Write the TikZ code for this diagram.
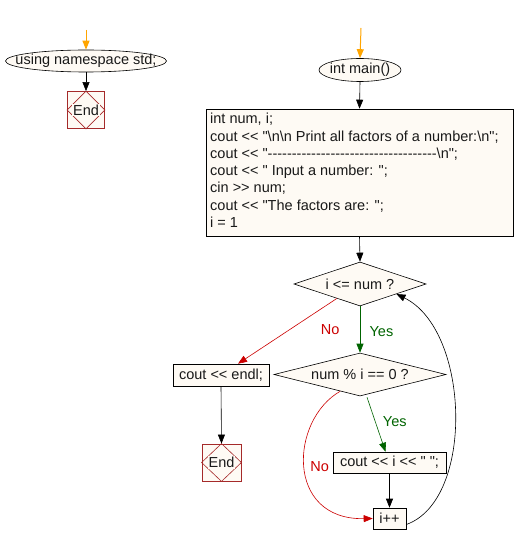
\documentclass[tikz,border=0pt]{standalone}
\usepackage{fontspec}
\setmainfont{Liberation Sans}[Ligatures=TeXOff]
\usetikzlibrary{shapes.geometric,arrows.meta,calc}
\definecolor{cream}{HTML}{FEFAF4}
\definecolor{endred}{HTML}{A52A2A}
\definecolor{yesgreen}{HTML}{006400}
\definecolor{nored}{HTML}{CC0000}
\definecolor{startorange}{HTML}{FFA500}
\begin{document}
\begin{tikzpicture}[x=1pt,y=-1pt,
  every node/.style={font=\fontsize{14.5}{17.3}\selectfont, text=black!90},
  flow/.style={draw=black, line width=0.6pt, -{Triangle[length=9pt,width=7pt]}},
  startarrow/.style={draw=startorange, line width=1pt, -{Triangle[length=9pt,width=7pt]}},
  yesline/.style={draw=yesgreen, line width=0.6pt, -{Triangle[length=9pt,width=7pt]}},
  noline/.style={draw=nored, line width=0.6pt, -{Triangle[length=9pt,width=7pt]}},
  term/.style={ellipse, draw=black, fill=cream, inner sep=0pt, line width=0.6pt},
  procbox/.style={rectangle, draw=black, fill=cream, inner sep=0pt, line width=0.6pt},
  decision/.style={diamond, draw=black, fill=cream, inner sep=0pt, line width=0.6pt},
  endbox/.style={rectangle, draw=endred, fill=cream, line width=0.8pt, minimum width=37pt, minimum height=37pt, inner sep=0pt},
  yeslbl/.style={text=yesgreen},
  nolbl/.style={text=nored}
]
\useasboundingbox[fill=white] (0,0) rectangle (515,545);

% left column
\node[term, minimum width=161pt, minimum height=22pt] (ns) at (86,61) {};
\node[inner sep=0pt] (nst) at (ns.center) {using namespace std;};
\coordinate (o1) at (86,30);
\draw[startarrow] (o1) -- (ns.north);
\node[endbox] (end1) at (86,110) {};
\draw[endred, line width=0.6pt] (end1.north) -- (end1.east) -- (end1.south) -- (end1.west) -- cycle;
\node[fill=cream, inner sep=1pt] (end1t) at (end1.center) {End};
\draw[flow] (ns.south) -- (end1.north);

% main column
\node[term, minimum width=82pt, minimum height=23pt] (main) at (360,70) {};
\node[inner sep=0pt] (maint) at (main.center) {int main()};
\coordinate (o2) at (361,28);
\draw[startarrow] (o2) -- (main.north);

\node[procbox, minimum width=307pt, minimum height=127pt] (init) at (359.5,172.5) {};
\node[anchor=north west, align=left, inner sep=0pt] (inittext) at (210,113) {int num, i;\\
cout << "\textbackslash n\textbackslash n Print all factors of a number:\textbackslash n";\\
cout << "-----------------------------------\textbackslash n";\\
cout << " Input a number: ";\\
cin >{}> num;\\
cout << "The factors are: ";\\
i = 1};
\draw[flow] (main.south) -- (init.north);

\node[decision, minimum width=132pt, minimum height=44pt, aspect=3] (d1) at (360,284) {i <= num ?};
\draw[flow] (init.south) -- (d1.north);

\node[decision, minimum width=172pt, minimum height=43pt, aspect=4] (d2) at (360,374.5) {num \% i == 0 ?};
\draw[yesline] (d1.south) -- node[yeslbl, right=6pt, pos=0.55] {Yes} (d2.north);

\node[procbox, minimum width=96pt, minimum height=22pt] (endl) at (221,375) {cout << endl;};
\draw[noline] ($(d1.south)!0.35!(d1.west)$) -- node[nolbl, pos=0.3, xshift=23pt, yshift=-12pt] (nolbl1) {No} ([xshift=17pt]endl.north);

\node[endbox, minimum width=39pt] (end2) at (221.5,462.5) {};
\draw[endred, line width=0.6pt] (end2.north) -- (end2.east) -- (end2.south) -- (end2.west) -- cycle;
\node[fill=cream, inner sep=1pt] (end2t) at (end2.center) {End};
\draw[flow] (endl.south) -- (end2.north);

\node[procbox, minimum width=113pt, minimum height=21pt] (ci) at (389.5,462.5) {cout << i << " ";};
\draw[yesline] ([xshift=7pt,yshift=-1pt]d2.south) -- node[yeslbl, right=4pt, pos=0.45] (yes2) {Yes} ([xshift=-4pt]ci.north);

\node[procbox, minimum width=33pt, minimum height=21pt] (inc) at (389.5,518.5) {i++};
\draw[flow] (ci.south) -- (inc.north);

\draw[noline] ($(d2.south)!0.23!(d2.west)$) .. controls (290,420) and (285,520) .. node[nolbl, pos=0.5, right=2pt] (no2) {No} (inc.west);

\draw[flow] ([yshift=-6pt]inc.east) .. controls (475,500) and (470,330) .. ($(d1.south)!0.55!(d1.east)$);
\end{tikzpicture}
\end{document}
